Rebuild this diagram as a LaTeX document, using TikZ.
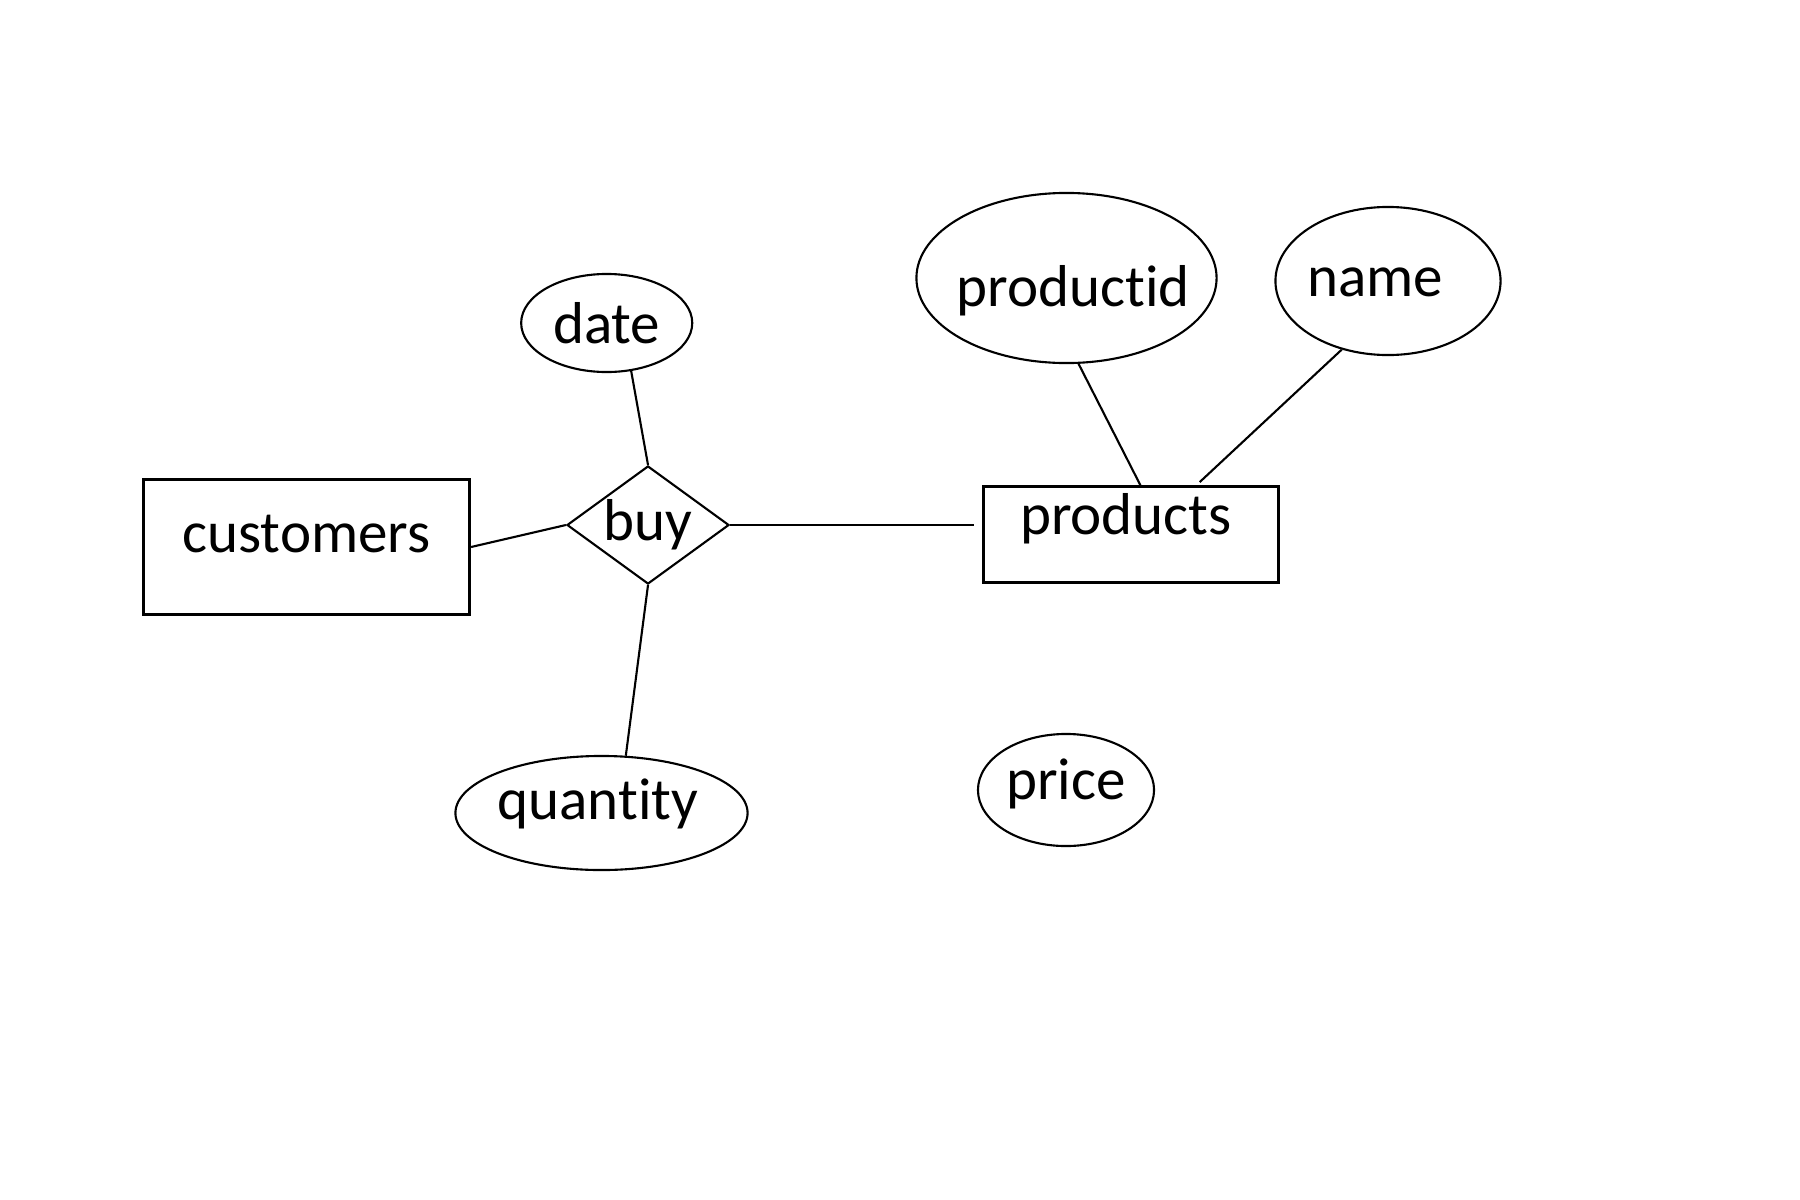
\documentclass[tikz,border=0pt]{standalone}
\usepackage{fontspec}
\setmainfont{Carlito}[Ligatures=NoCommon]
\usepackage{tikz}
\usetikzlibrary{
  shapes.geometric
}
\usepackage{xcolor}
\definecolor{erline}{RGB}{0, 0, 0}
\newcommand{\erfont}{\fontsize{16.8}{20}\selectfont}
\tikzset{
  % To'plamlar (entity)
  entity/.style   = {rectangle, draw=erline, line width=0.85pt, inner sep=0pt, font=\erfont},
  % Munosabat (relationship)
  relation/.style = {diamond, aspect=1.37, draw=erline, line width=0.6pt, inner sep=0pt, font=\erfont},
  % Atributlar (argument: matnni gorizontal surish, 2x)
  attrib/.style   = {ellipse, draw=erline, line width=0.6pt, inner sep=0pt, font=\erfont,
                     execute at begin node=\hbox to 0pt\bgroup\hss\kern#1,
                     execute at end node=\hss\egroup},
  attrib/.default = 0cm,
  % Bog'lovchi chiziqlar
  conn/.style     = {draw=erline, line width=0.6pt},
}

\begin{document}
\begin{tikzpicture}[x=0.01cm, y=-0.01cm]
  \useasboundingbox (0,0) rectangle (1800,1200);
  \fill[white] (0,0) rectangle (1800,1200);
  % To'plamlar va munosabat
  \node[entity, minimum width=3.26cm, minimum height=1.34cm,
        text height=0.32cm, text depth=0.22cm] (customers) at (306.5,547) {customers};
  \node[relation, minimum width=1.62cm, minimum height=1.18cm] (buy) at (648,525) {buy};
  \node[entity, minimum width=2.94cm, minimum height=0.95cm,
        text height=0.34cm, text depth=0.34cm] (products) at (1131,534.5) {\kern-0.1cm products};
  % Atributlar
  \node[attrib, minimum width=1.71cm, minimum height=0.98cm,
        text height=0.40cm, text depth=0cm] (date) at (606.7,323) {date};
  \node[attrib=-0.07cm, minimum width=2.92cm, minimum height=1.14cm,
        text height=0.38cm, text depth=0.26cm] (quantity) at (601.5,813) {quantity};
  \node[attrib=0.13cm, minimum width=3.00cm, minimum height=1.70cm,
        text height=0.67cm, text depth=0.11cm] (productid) at (1066.5,278) {productid};
  \node[attrib=-0.26cm, minimum width=2.25cm, minimum height=1.48cm,
        text height=0.30cm, text depth=0cm] (name) at (1388,281) {name};
  \node[attrib, minimum width=1.76cm, minimum height=1.12cm,
        text height=0.38cm, text depth=0.20cm] (price) at (1066,790) {price};
  % Chiziqlar
  \draw[conn] (customers.east) -- (buy.west);
  \draw[conn] (buy.north) -- (date.-63);
  \draw[conn] (buy.south) -- (quantity.67);
  \draw[conn, shorten >=0.08cm] (buy.east) -- (products.west |- buy.east);
  \draw[conn] (products.79) -- (productid.-82);
  \draw[conn, shorten <=0.05cm] (products.37) -- (name.-124);
\end{tikzpicture}
\end{document}
